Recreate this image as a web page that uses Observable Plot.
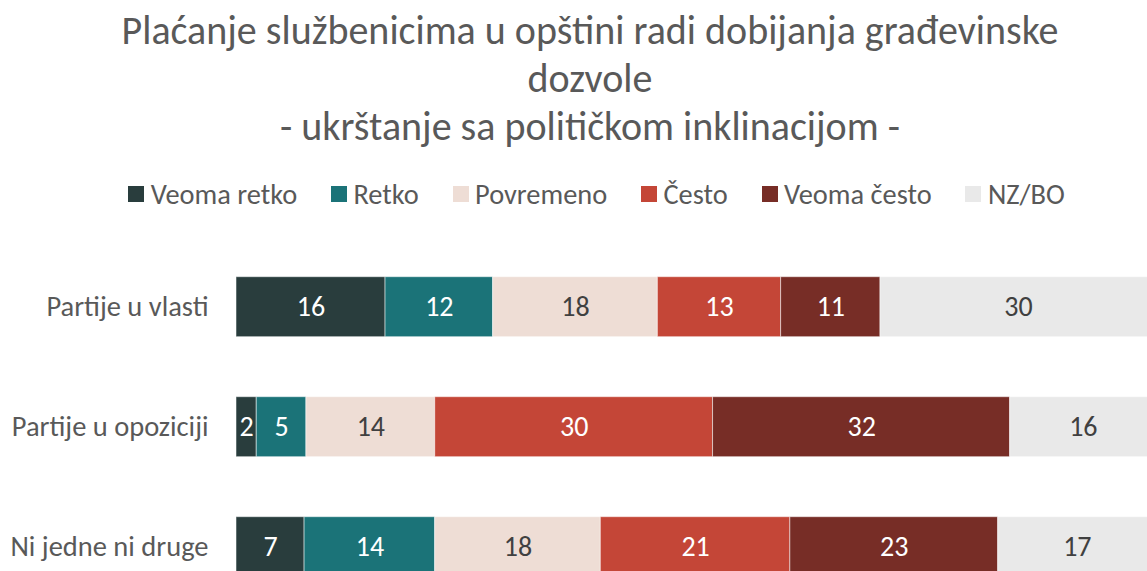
<!DOCTYPE html>
<html>
<head>
<meta charset="utf-8">
<script src="https://cdn.jsdelivr.net/npm/d3@7"></script>
<script src="https://cdn.jsdelivr.net/npm/@observablehq/plot@0.6"></script>
<style>
  html, body { margin: 0; padding: 0; background: #fff; overflow: hidden; }
  body { width: 1147px; height: 571px; position: relative; font-family: Carlito, Lato, sans-serif; }
  #header { position: relative; height: 210px; width: 1147px; }
  #title { position: absolute; left: 0; top: 7px; width: 1180px; text-align: center;
           font-size: 40px; line-height: 48px; color: #595959; }
  #legend { position: absolute; left: 0; top: 180.5px; width: 1193px; display: flex; justify-content: center;
            gap: 33.8px; font-size: 28.4px; line-height: 28px; color: #595959; white-space: nowrap; }
  #legend .item { display: inline-block; }
  #legend .sw { display: inline-block; width: 16px; height: 16px; margin-right: 6.5px; margin-bottom: 1.7px; vertical-align: baseline; }
  #chart { width: 1200px; }
  #chart svg { display: block; overflow: visible; max-width: none; }
</style>
</head>
<body>
<div id="header">
  <div id="title">Plaćanje službenicima u opštini radi dobijanja građevinske<br>dozvole<br>- ukrštanje sa političkom inklinacijom -</div>
  <div id="legend"></div>
</div>
<div id="chart"></div>
<script>
// Categories (rows)
const groups = ["Partije u vlasti", "Partije u opoziciji", "Ni jedne ni druge"];
// Answer options (series)
const answers = ["Veoma retko", "Retko", "Povremeno", "Često", "Veoma često", "NZ/BO"];
const colors = ["#293d3d", "#1b7378", "#eeddd5", "#c44637", "#772d26", "#e9e9e9"];
// Series values (percent)
const partijeUVlasti = [16.2, 11.7, 17.9, 13.4, 10.8, 30.0];
const partijeUOpoziciji = [2.2, 5.4, 14.0, 30.2, 32.3, 15.9];
const niJedneNiDruge = [7.4, 14.2, 18.0, 20.6, 22.6, 17.2];
const darkAnswers = new Set(["Veoma retko", "Retko", "Često", "Veoma često"]);

const series = [partijeUVlasti, partijeUOpoziciji, niJedneNiDruge];
const data = [];
groups.forEach((g, gi) => answers.forEach((a, ai) => data.push({group: g, answer: a, value: series[gi][ai]})));

// Legend
const legend = document.getElementById("legend");
answers.forEach((a, i) => {
  const it = document.createElement("span");
  it.className = "item";
  const sw = document.createElement("span");
  sw.className = "sw";
  sw.style.background = colors[i];
  it.appendChild(sw);
  it.appendChild(document.createTextNode(a));
  legend.appendChild(it);
});

const marginTop = 6.7;
const step = 120;
const chart = Plot.plot({
  width: 1156,
  height: marginTop + step * 3.5,
  marginTop: marginTop,
  marginBottom: 0,
  marginLeft: 236,
  marginRight: 0,
  style: {fontFamily: "Carlito, Lato, sans-serif", background: "transparent", overflow: "visible", maxWidth: "none"},
  x: {domain: [0, 100], axis: null},
  y: {domain: groups, padding: 0.5, round: false, axis: null},
  color: {domain: answers, range: colors},
  marks: [
    Plot.barX(data, Plot.stackX({x: "value", y: "group", fill: "answer", stroke: "#ffffff", strokeWidth: 1, strokeOpacity: 0.5})),
    Plot.text(data, Plot.stackX({x: "value", y: "group",
      text: d => darkAnswers.has(d.answer) ? String(Math.round(d.value)) : "",
      fill: "#ffffff", fontSize: 28})),
    Plot.text(data, Plot.stackX({x: "value", y: "group",
      text: d => darkAnswers.has(d.answer) ? "" : String(Math.round(d.value)),
      fill: "#404040", fontSize: 28})),
    Plot.axisY({tickSize: 0, tickPadding: 28, fontSize: 28.5, fill: "#595959", label: null})
  ]
});
document.getElementById("chart").appendChild(chart);
</script>
</body>
</html>
